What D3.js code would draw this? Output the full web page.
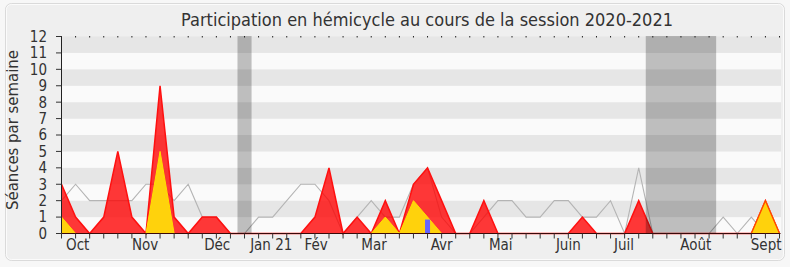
<!DOCTYPE html>
<html>
<head>
<meta charset="utf-8">
<script src="https://cdn.jsdelivr.net/npm/d3@7"></script>
<style>
  html, body { margin: 0; padding: 0; background: #f7f7f7; }
  svg { display: block; }
  text { font-family: "DejaVu Sans Condensed", "DejaVu Sans", sans-serif; font-stretch: condensed; fill: #333; }
</style>
</head>
<body>
<svg id="chart" width="790" height="267"></svg>
<script>
// ---- data (weekly, session 2020-2021) ----
const weeks = d3.range(52);
const presences = [3,1,0,1,5,1,0,9,1,0,1,1,0,0,0,0,0,0,1,4,0,1,0,2,0,3,4,2,0,0,2,0,0,0,0,0,0,1,0,0,0,2,0,0,0,0,0,0,0,0,2,0];
const interventions = [1,0,0,0,0,0,0,5,0,0,0,0,0,0,0,0,0,0,0,0,0,0,0,1,0,2,1,0,0,0,0,0,0,0,0,0,0,0,0,0,0,0,0,0,0,0,0,0,0,0,2,0];
const hemicycle = [2,3,2,2,2,2,3,3,2,3,1,1,0,0,1,1,2,3,3,2,0,1,2,1,1,3,4,1,0,0,1,2,2,1,1,2,2,1,1,2,0,4,0,0,0,0,0,1,0,1,0];
hemicycle.push(0);
const questionsWeek = [26];
const questionsValue = [0.85];
const vacations = [[12.5, 13.5], [41.5, 46.5]];
const monthLabels = ["Oct","Nov","Déc","Jan 21","Fév","Mar","Avr","Mai","Juin","Juil","Août","Sept"];
const monthTicks = [1.15, 5.94, 11.06, 14.9, 18.09, 22.2, 27.0, 31.2, 36.0, 39.96, 45.06, 50.05];
const yTicks = d3.range(0, 13);
const title = "Participation en hémicycle au cours de la session 2020-2021";
const yTitle = "Séances par semaine";

// ---- layout ----
const svg = d3.select("#chart");
const W = 790, H = 267;
const x = d3.scaleLinear().domain([0, 51]).range([61.5, 779.5]);
const y = d3.scaleLinear().domain([0, 12]).range([233.5, 36.5]);

// frame
svg.append("rect").attr("x", 0).attr("y", 0).attr("width", W).attr("height", H).attr("fill", "#f7f7f7");
svg.append("rect").attr("x", 5.5).attr("y", 3.5).attr("width", 779).attr("height", 257)
  .attr("rx", 6).attr("fill", "#efefef").attr("stroke", "#dadada");
svg.append("rect").attr("x", 6.5).attr("y", 4.5).attr("width", 777).attr("height", 255)
  .attr("rx", 5).attr("fill", "none").attr("stroke", "#fbfbfb");

// horizontal bands
const bands = d3.range(0, 12);
svg.append("g").selectAll("rect").data(bands).join("rect")
  .attr("x", x(0)).attr("width", 781 - x(0))
  .attr("y", d => y(d + 1)).attr("height", d => y(d) - y(d + 1))
  .attr("fill", d => (d % 2 === 1) ? "#e6e6e6" : "#fafafa");

// grey line (séances en hémicycle)
svg.append("path").datum(weeks)
  .attr("d", d3.line().x(i => x(i)).y(i => y(hemicycle[i])))
  .attr("fill", "none").attr("stroke", "#b4b4b4").attr("stroke-width", 1.1);

// red area (présences)
svg.append("path").datum(weeks)
  .attr("d", d3.area().x(i => x(i)).y0(y(0)).y1(i => y(presences[i])))
  .attr("fill", "#ff0000").attr("fill-opacity", 0.78);
svg.append("path").datum(weeks)
  .attr("d", d3.line().x(i => x(i)).y(i => y(presences[i])))
  .attr("fill", "none").attr("stroke", "#ff1010").attr("stroke-width", 1.5);

// yellow area (interventions)
svg.append("path").datum(weeks)
  .attr("d", d3.area().x(i => x(i)).y0(y(0)).y1(i => y(interventions[i])))
  .attr("fill", "#ffd20c");
svg.append("path").datum(weeks)
  .attr("d", d3.line().x(i => x(i)).y(i => y(interventions[i])).defined(i => interventions[i] > 0 || interventions[i-1] > 0 || interventions[i+1] > 0))
  .attr("fill", "none").attr("stroke", "#ffe000").attr("stroke-width", 1);
// red outline where presences equal interventions at peak
svg.append("path").datum(weeks)
  .attr("d", d3.line().x(i => x(i)).y(i => y(presences[i]))
    .defined(i => (presences[i] > 0 && presences[i] === interventions[i]) || (presences[i-1] > 0 && presences[i-1] === interventions[i-1]) || (presences[i+1] > 0 && presences[i+1] === interventions[i+1])))
  .attr("fill", "none").attr("stroke", "#ff4000").attr("stroke-width", 1.2);

// blue bars (questions)
svg.append("g").selectAll("rect").data(questionsWeek).join("rect")
  .attr("x", d => x(d) - 2.5).attr("width", 5)
  .attr("y", (d, k) => y(questionsValue[k])).attr("height", (d, k) => y(0) - y(questionsValue[k]))
  .attr("fill", "#6464ff");

// vacation bands
svg.append("g").selectAll("rect").data(vacations).join("rect")
  .attr("x", d => x(d[0])).attr("width", d => x(d[1]) - x(d[0]))
  .attr("y", y(12) - 0.5).attr("height", y(0) - y(12) + 0.5)
  .attr("fill", "#000").attr("fill-opacity", 0.24);

// axes
svg.append("line").attr("x1", x(0)).attr("x2", x(0)).attr("y1", y(12) - 0.5).attr("y2", y(0))
  .attr("stroke", "#222");
svg.append("line").attr("x1", x(0)).attr("x2", x(51) + 1).attr("y1", y(0)).attr("y2", y(0))
  .attr("stroke", "#3a0808").attr("stroke-width", 1);
// y ticks
svg.append("g").selectAll("line").data(yTicks).join("line")
  .attr("x1", 56).attr("x2", x(0)).attr("y1", d => y(d)).attr("y2", d => y(d))
  .attr("stroke", "#333");
svg.append("g").selectAll("text").data(yTicks).join("text")
  .attr("x", 47).attr("y", d => y(d)).attr("dy", "0.36em")
  .attr("text-anchor", "end").attr("font-size", 15).text(d => d);
// x ticks (weekly)
svg.append("g").selectAll("line").data(weeks).join("line")
  .attr("x1", d => x(d)).attr("x2", d => x(d)).attr("y1", y(0)).attr("y2", y(0) + 5)
  .attr("stroke", "#333");
// top week dots
svg.append("g").selectAll("line").data(weeks.slice(1)).join("line")
  .attr("x1", d => x(d)).attr("x2", d => x(d)).attr("y1", y(12) - 0.5).attr("y2", y(12) + 1)
  .attr("stroke", "#222");
// month labels
svg.append("g").selectAll("text").data(monthLabels).join("text")
  .attr("x", (d, k) => x(monthTicks[k])).attr("y", 250)
  .attr("text-anchor", "middle").attr("font-size", 15).text(d => d);

// titles
svg.append("text").attr("x", 427).attr("y", 26).attr("text-anchor", "middle")
  .attr("font-size", 17).attr("textLength", 492).attr("lengthAdjust", "spacingAndGlyphs").text(title);
svg.append("text").attr("transform", "translate(18,130) rotate(-90)")
  .attr("text-anchor", "middle").attr("font-size", 15).attr("textLength", 160).attr("lengthAdjust", "spacingAndGlyphs").text(yTitle);
</script>
</body>
</html>
